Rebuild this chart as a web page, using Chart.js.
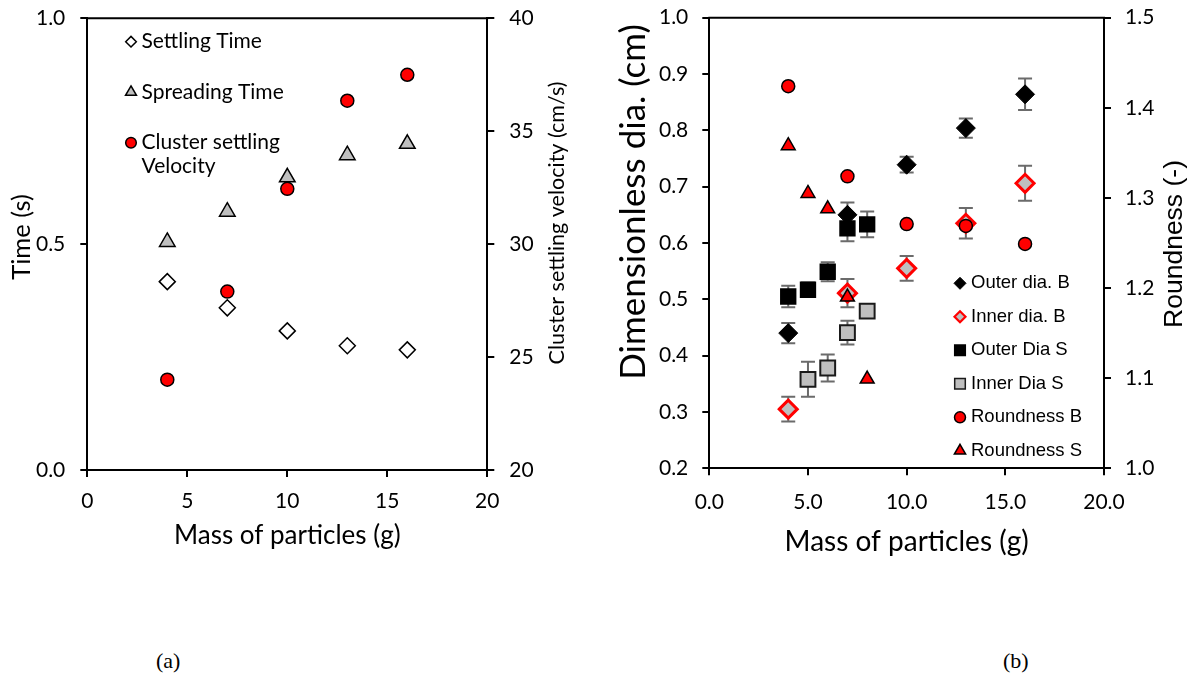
<!DOCTYPE html>
<html>
<head>
<meta charset="utf-8">
<script src="https://cdn.jsdelivr.net/npm/chart.js@4.4.1/dist/chart.umd.min.js"></script>
<style>
  body { margin: 0; background: #fff; width: 1198px; height: 677px; position: relative; overflow: hidden; }
  canvas { position: absolute; top: 0; }
  #chartA { left: 0; }
  #chartB { left: 600px; }
  .tag { position: absolute; top: 648px; font-family: "Liberation Serif", serif; font-size: 22px; color: #000; }
</style>
</head>
<body>
<canvas id="chartA" width="600" height="560"></canvas>
<canvas id="chartB" width="598" height="560"></canvas>
<div class="tag" style="left:156px">(a)</div>
<div class="tag" style="left:1003px">(b)</div>
<script>
// (a) settling / spreading
const massA = [4, 7, 10, 13, 16];
const settlingTime = [0.417, 0.359, 0.308, 0.275, 0.266];
const spreadingTime = [0.505, 0.572, 0.648, 0.697, 0.722];
const clusterVelocity = [24.0, 27.9, 32.45, 36.35, 37.5];

// (b) diameters and roundness
const massB = [4, 7, 10, 13, 16];
const massS = [4, 5, 6, 7, 8];
const massInnerS = [5, 6, 7, 8];
const outerDiaB = [0.44, 0.65, 0.739, 0.804, 0.864];
const outerDiaBErr = [0.018, 0.022, 0.014, 0.017, 0.028];
const innerDiaB = [0.305, 0.511, 0.555, 0.635, 0.706];
const innerDiaBErr = [0.022, 0.025, 0.022, 0.027, 0.031];
const outerDiaS = [0.505, 0.517, 0.549, 0.626, 0.633];
const outerDiaSErr = [0.019, 0.013, 0.017, 0.023, 0.023];
const innerDiaS = [0.358, 0.378, 0.441, 0.479];
const innerDiaSErr = [0.031, 0.024, 0.021, 0];
const roundB = [1.424, 1.324, 1.271, 1.269, 1.249];
const roundS = [1.358, 1.305, 1.288, 1.19, 1.099];

const FONT = 'Lato';
const GRAY = '#bfbfbf';
const RED = '#ff0000';

function pts(xs, ys) {
    return xs.map((x, i) => ({ x: x, y: ys[i] }));
}

function marker(ctx, style, r, x, y) {
    if (Chart.helpers && Chart.helpers.drawPoint) {
        Chart.helpers.drawPoint(ctx, { pointStyle: style, radius: r, rotation: 0, borderWidth: ctx.lineWidth }, x, y);
        return;
    }
    ctx.beginPath();
    if (style === 'circle') ctx.arc(x, y, r, 0, Math.PI * 2);
    else if (style === 'rectRot') { ctx.moveTo(x, y - r); ctx.lineTo(x + r, y); ctx.lineTo(x, y + r); ctx.lineTo(x - r, y); }
    else if (style === 'rect') { const s = r * Math.SQRT1_2; ctx.rect(x - s, y - s, 2 * s, 2 * s); }
    else { ctx.moveTo(x, y - r); ctx.lineTo(x + r * 0.866, y + r / 2); ctx.lineTo(x - r * 0.866, y + r / 2); }
    ctx.closePath();
    ctx.fill();
    ctx.stroke();
}

// top line of the plot box
const frame = {
    id: 'frame',
    beforeDatasetsDraw(chart) {
        const a = chart.chartArea, ctx = chart.ctx;
        ctx.save();
        ctx.strokeStyle = '#000';
        ctx.lineWidth = 2;
        ctx.beginPath();
        ctx.moveTo(a.left - 1, a.top);
        ctx.lineTo(a.right + 1, a.top);
        ctx.stroke();
        ctx.restore();
    }
};

const errorBars = {
    id: 'errorBars',
    beforeDatasetsDraw(chart) {
        const ctx = chart.ctx;
        chart.data.datasets.forEach(ds => {
            if (!ds.errors) return;
            const xs = chart.scales.x, ys = chart.scales[ds.yAxisID];
            ctx.save();
            ctx.strokeStyle = '#6b6b6b';
            ctx.lineWidth = 2;
            ds.data.forEach((p, j) => {
                const e = ds.errors[j];
                if (!e) return;
                const px = xs.getPixelForValue(p.x);
                const top = ys.getPixelForValue(p.y + e), bot = ys.getPixelForValue(p.y - e);
                ctx.beginPath();
                ctx.moveTo(px, top); ctx.lineTo(px, bot);
                ctx.moveTo(px - 7, top); ctx.lineTo(px + 7, top);
                ctx.moveTo(px - 7, bot); ctx.lineTo(px + 7, bot);
                ctx.stroke();
            });
            ctx.restore();
        });
    }
};

// legend drawn inside the plot area
const innerLegend = {
    id: 'innerLegend',
    afterDatasetsDraw(chart, args, o) {
        const ctx = chart.ctx;
        ctx.save();
        ctx.font = o.size + 'px ' + o.family;
        ctx.textBaseline = 'middle';
        ctx.textAlign = 'left';
        let y = o.y;
        chart.data.datasets.forEach(ds => {
            ctx.fillStyle = ds.pointBackgroundColor;
            ctx.strokeStyle = ds.pointBorderColor;
            ctx.lineWidth = ds.legendBorder || ds.pointBorderWidth;
            marker(ctx, ds.pointStyle, ds.legendRadius, o.markerX, y);
            ctx.fillStyle = '#000';
            const lines = ds.legendLines || [ds.label];
            lines.forEach((t, k) => ctx.fillText(t, o.textX, y + k * o.lineGap));
            y += o.step;
        });
        ctx.restore();
    }
};

// vertical axis titles, read bottom to top
const sideTitles = {
    id: 'sideTitles',
    afterDraw(chart, args, o) {
        const ctx = chart.ctx;
        o.items.forEach(t => {
            ctx.save();
            ctx.translate(t.x, t.y);
            ctx.rotate(-Math.PI / 2);
            ctx.font = t.size + 'px ' + t.family;
            ctx.fillStyle = '#000';
            ctx.textAlign = 'center';
            ctx.textBaseline = 'middle';
            ctx.fillText(t.text, 0, 0);
            ctx.restore();
        });
    }
};

function axis(extra) {
    const ticks = Object.assign({ color: '#000', font: { family: FONT, size: 21 } }, extra.ticks || {});
    return Object.assign({
        type: 'linear',
        grid: { drawOnChartArea: false, drawTicks: true, tickLength: 7, color: '#000', lineWidth: 2 },
        border: { display: true, color: '#000', width: 2 }
    }, extra, { ticks: ticks });
}

// fixed axis box size; the end labels may run past the plot box
function fixWidth(w) {
    return s => { s.width = w; s.paddingTop = 0; s.paddingBottom = 0; };
}

new Chart(document.getElementById('chartA'), {
    type: 'scatter',
    data: {
        datasets: [{
            label: 'Settling Time',
            data: pts(massA, settlingTime),
            yAxisID: 'y',
            pointStyle: 'rectRot', pointRadius: 8,
            pointBackgroundColor: '#fff', pointBorderColor: '#000', pointBorderWidth: 1.5,
            legendRadius: 5.3, order: 3
        }, {
            label: 'Spreading Time',
            data: pts(massA, spreadingTime),
            yAxisID: 'y',
            pointStyle: 'triangle', pointRadius: 9,
            pointBackgroundColor: GRAY, pointBorderColor: '#000', pointBorderWidth: 1.5,
            legendRadius: 6.3, order: 2
        }, {
            label: 'Cluster settling Velocity',
            legendLines: ['Cluster settling', 'Velocity'],
            data: pts(massA, clusterVelocity),
            yAxisID: 'y2',
            pointStyle: 'circle', pointRadius: 6.5,
            pointBackgroundColor: RED, pointBorderColor: '#000', pointBorderWidth: 1.5,
            legendRadius: 5.3, order: 1
        }]
    },
    options: {
        responsive: false,
        animation: false,
        layout: { padding: { top: 18.3, bottom: 8.3, left: 0, right: 0 } },
        plugins: {
            legend: { display: false },
            tooltip: { enabled: false },
            innerLegend: { markerX: 131, textX: 141.5, y: 41.7, step: 50.5, lineGap: 24, size: 21, family: FONT },
            sideTitles: { items: [
                { text: 'Time (s)', x: 22, y: 237, size: 25.5, family: FONT },
                { text: 'Cluster settling velocity (cm/s)', x: 557, y: 223, size: 21.5, family: FONT }
            ] }
        },
        scales: {
            x: axis({
                min: 0, max: 20,
                ticks: { stepSize: 5, padding: 12 },
                title: { display: true, text: 'Mass of particles (g)', color: '#000', padding: 0, font: { family: FONT, size: 26 } },
                afterFit: s => { s.height = 81.7; }
            }),
            y: axis({
                position: 'left', min: 0, max: 1,
                ticks: { stepSize: 0.5, padding: 15, callback: v => v.toFixed(1) },
                afterFit: fixWidth(87.3)
            }),
            y2: axis({
                position: 'right', min: 20, max: 40,
                ticks: { stepSize: 5, padding: 15 },
                afterFit: fixWidth(112.7)
            })
        }
    },
    plugins: [frame, errorBars, innerLegend, sideTitles]
});

new Chart(document.getElementById('chartB'), {
    type: 'scatter',
    data: {
        datasets: [{
            label: 'Outer dia. B',
            data: pts(massB, outerDiaB), errors: outerDiaBErr,
            yAxisID: 'y',
            pointStyle: 'rectRot', pointRadius: 9.5,
            pointBackgroundColor: '#000', pointBorderColor: '#000', pointBorderWidth: 1,
            legendRadius: 6, order: 6
        }, {
            label: 'Inner dia. B',
            data: pts(massB, innerDiaB), errors: innerDiaBErr,
            yAxisID: 'y',
            pointStyle: 'rectRot', pointRadius: 9,
            pointBackgroundColor: GRAY, pointBorderColor: RED, pointBorderWidth: 3,
            legendRadius: 5.5, legendBorder: 2.2, order: 5
        }, {
            label: 'Outer Dia S',
            data: pts(massS, outerDiaS), errors: outerDiaSErr,
            yAxisID: 'y',
            pointStyle: 'rect', pointRadius: 10.5,
            pointBackgroundColor: '#000', pointBorderColor: '#000', pointBorderWidth: 1.5,
            legendRadius: 7.5, order: 4
        }, {
            label: 'Inner Dia S',
            data: pts(massInnerS, innerDiaS), errors: innerDiaSErr,
            yAxisID: 'y',
            pointStyle: 'rect', pointRadius: 10.5,
            pointBackgroundColor: GRAY, pointBorderColor: '#1a1a1a', pointBorderWidth: 2,
            legendRadius: 7.5, legendBorder: 1.5, order: 3
        }, {
            label: 'Roundness B',
            data: pts(massB, roundB),
            yAxisID: 'y2',
            pointStyle: 'circle', pointRadius: 6.5,
            pointBackgroundColor: RED, pointBorderColor: '#000', pointBorderWidth: 1.5,
            legendRadius: 5.5, order: 2
        }, {
            label: 'Roundness S',
            data: pts(massS, roundS),
            yAxisID: 'y2',
            pointStyle: 'triangle', pointRadius: 8,
            pointBackgroundColor: RED, pointBorderColor: '#000', pointBorderWidth: 1.5,
            legendRadius: 6.5, order: 1
        }]
    },
    options: {
        responsive: false,
        animation: false,
        layout: { padding: { top: 17.7, bottom: 1.6, left: 0, right: 0 } },
        plugins: {
            legend: { display: false },
            tooltip: { enabled: false },
            innerLegend: { markerX: 360, textX: 371, y: 283.3, step: 33.5, lineGap: 22, size: 18.5, family: 'Liberation Sans' },
            sideTitles: { items: [
                { text: 'Dimensionless dia. (cm)', x: 34, y: 202, size: 35, family: FONT },
                { text: 'Roundness (-)', x: 575, y: 244, size: 26.5, family: 'Liberation Sans' }
            ] }
        },
        scales: {
            x: axis({
                min: 0, max: 20,
                ticks: { stepSize: 5, padding: 14, callback: v => v.toFixed(1) },
                title: { display: true, text: 'Mass of particles (g)', color: '#000', padding: 0, font: { family: FONT, size: 28 } },
                afterFit: s => { s.height = 90.1; }
            }),
            y: axis({
                position: 'left', min: 0.2, max: 1.0,
                ticks: { stepSize: 0.1, padding: 14, callback: v => v.toFixed(1) },
                afterFit: fixWidth(109.3)
            }),
            y2: axis({
                position: 'right', min: 1.0, max: 1.5,
                ticks: { stepSize: 0.1, padding: 14, callback: v => v.toFixed(1) },
                afterFit: fixWidth(94)
            })
        }
    },
    plugins: [frame, errorBars, innerLegend, sideTitles]
});
</script>
</body>
</html>
